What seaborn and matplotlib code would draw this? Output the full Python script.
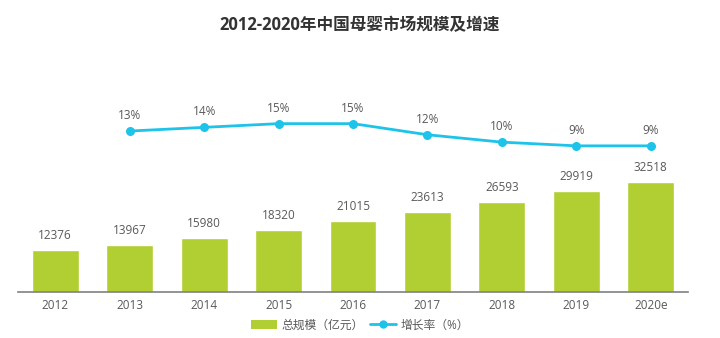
import matplotlib
matplotlib.use("Agg")
import matplotlib.pyplot as plt
import seaborn as sns
import pandas as pd
from matplotlib.patches import Patch
from matplotlib.lines import Line2D

years = ["2012", "2013", "2014", "2015", "2016", "2017", "2018", "2019", "2020e"]
scale = [12376, 13967, 15980, 18320, 21015, 23613, 26593, 29919, 32518]
growth_years = ["2013", "2014", "2015", "2016", "2017", "2018", "2019", "2020e"]
growth = [13, 14, 15, 15, 12, 10, 9, 9]

sns.set_theme(style="white")
plt.rcParams['font.family'] = ['Open Sans', 'Noto Sans CJK SC', 'DejaVu Sans']

bar_color = "#b1cf33"
line_color = "#1ec3ea"
text_color = "#595959"

df = pd.DataFrame({"year": years, "scale": scale})
dg = pd.DataFrame({"year": growth_years, "growth": growth})
dg["pos"] = [years.index(y) for y in growth_years]

fig = plt.figure(figsize=(7.2, 3.38), dpi=100)
ax = fig.add_axes([18/720, 1 - 292/338, 670/720, 232/338])

sns.barplot(data=df, x="year", y="scale", color=bar_color, width=0.63,
            saturation=1, ax=ax)
ax.set_xlim(-0.5, 8.5)
ax.set_ylim(0, 68437)
for i, v in enumerate(scale):
    ax.text(i, v + 2300, str(v), ha="center", va="bottom", fontsize=8.5, color=text_color)

ax2 = ax.twinx()
sns.lineplot(data=dg, x="pos", y="growth", color=line_color, linewidth=2,
             marker="o", markersize=6.5, markeredgewidth=0, ax=ax2)
ax2.set_ylim(-30.5, 32.2)
for p, g in zip(dg["pos"], growth):
    ax2.text(p, g + 2.4, f"{g}%", ha="center", va="bottom", fontsize=8.5, color=text_color)

for a in (ax, ax2):
    for s in a.spines.values():
        s.set_visible(False)
    a.set_yticks([])
    a.set_ylabel("")
    a.set_xlabel("")
ax.spines["bottom"].set_visible(True)
ax.spines["bottom"].set_color("#808080")
ax.spines["bottom"].set_linewidth(1.2)
ax.tick_params(axis="x", length=0, pad=5, labelsize=8.5, labelcolor=text_color)
ax2.tick_params(axis="x", length=0)

fig.text(0.5, 1 - 25/338, "2012-2020年中国母婴市场规模及增速", ha="center", va="center",
         fontsize=12, fontweight="bold", color="#333333",
         family=['Open Sans', 'Noto Sans CJK SC'])

handles = [Patch(facecolor=bar_color, edgecolor="none"),
           Line2D([0], [0], color=line_color, linewidth=2, marker="o", markersize=6,
                  markeredgewidth=0)]
fig.legend(handles, ["总规模（亿元）", "增长率（%）"], loc="center",
           bbox_to_anchor=(0.5, 1 - 325/338), ncol=2, frameon=False, fontsize=8.5,
           labelcolor=text_color, handlelength=2.2, columnspacing=0.5, handletextpad=0.4)

fig.savefig("out.png", dpi=100)
